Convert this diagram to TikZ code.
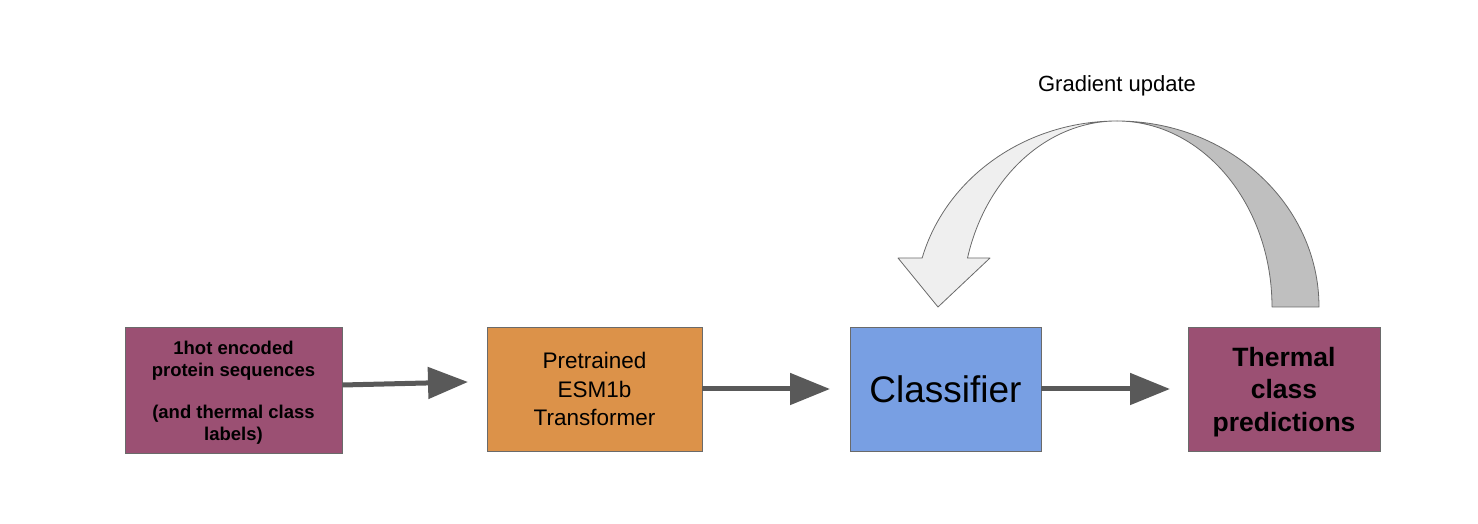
\documentclass[tikz,border=0pt]{standalone}
\usepackage{fontspec}
\setmainfont{Liberation Sans}
\usetikzlibrary{arrows.meta}
\definecolor{boxpurple}{HTML}{9B5073}
\definecolor{boxorange}{HTML}{DC9249}
\definecolor{boxblue}{HTML}{789FE3}
\definecolor{arrowgray}{HTML}{595959}
\definecolor{edgegray}{HTML}{6A6A6A}
\definecolor{bandlight}{HTML}{EFEFEF}
\definecolor{banddark}{HTML}{BFBFBF}
\begin{document}
\begin{tikzpicture}[x=1pt,y=1pt,
  blockbox/.style={draw=edgegray, line width=0.9pt, minimum height=124pt, align=center, inner sep=0pt},
  flowarrow/.style={draw=arrowgray, line width=5pt, -{Triangle[length=40pt,width=31pt]}},
  band/.style={draw=edgegray, line width=0.8pt, line join=round}]
\useasboundingbox (0,0) rectangle (1478,524);

% boxes
\node[blockbox, fill=boxpurple, minimum width=217pt, minimum height=126pt] (input) at (233.5,134) {};
\node[font=\fontsize{18.5}{22}\selectfont\bfseries, align=center] (inputtext) at (233.5,131)
  {1hot encoded\\protein sequences\\[20pt](and thermal class\\labels)};
\node[blockbox, fill=boxorange, minimum width=215pt,
      font=\fontsize{22.5}{28.5}\selectfont] (esm) at (594.5,135)
  {Pretrained\\ESM1b\\Transformer};
\node[blockbox, fill=boxblue, minimum width=191pt,
      font=\fontsize{37}{44}\selectfont] (clf) at (945.5,135) {Classifier};
\node[blockbox, fill=boxpurple, minimum width=192pt] (pred) at (1284,135) {};
\node[font=\fontsize{26.5}{32.5}\selectfont\bfseries, align=center] (predtext) at (1284,132)
  {Thermal\\class\\predictions};

% free arrow ends
\coordinate (a1s) at (input.east |- 0,139);
\coordinate (a1e) at (468,142);
\coordinate (a2e) at (830,135);
\coordinate (a3e) at (1170,135);
\draw[flowarrow] (a1s) -- (a1e);
\draw[flowarrow] (esm.east) -- (a2e);
\draw[flowarrow] (clf.east) -- (a3e);

% curved feedback arrow
\draw[band, fill=banddark] (1319,217)
  arc[start angle=0, end angle=90, x radius=202pt, y radius=186pt]
  arc[start angle=90, end angle=0, x radius=155pt, y radius=186pt] -- cycle;
\draw[band, fill=bandlight] (1117,403)
  arc[start angle=90, end angle=164.73, x radius=202pt, y radius=186pt]
  -- (898,266) -- (938,217) -- (990,266) -- (967.5,266)
  arc[start angle=164.73, end angle=90, x radius=155pt, y radius=186pt] -- cycle;

\node[font=\fontsize{22}{26}\selectfont] (grad) at (1117,438) {Gradient update};
\end{tikzpicture}
\end{document}
